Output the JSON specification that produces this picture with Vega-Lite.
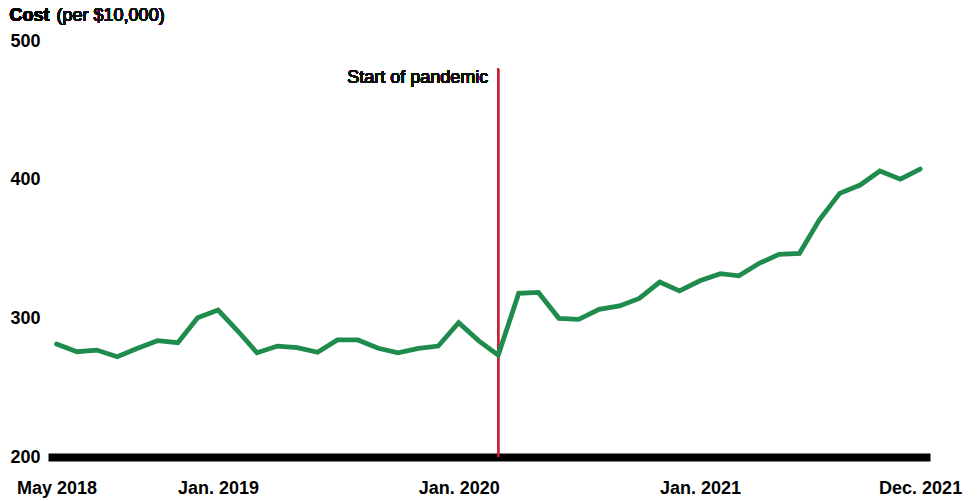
{
  "$schema": "https://vega.github.io/schema/vega-lite/v6.json",
  "width": 882,
  "height": 416,
  "padding": {"left": 48, "top": 41, "right": 50, "bottom": 44},
  "autosize": {"type": "none"},
  "background": "white",
  "config": {
    "view": {"stroke": null},
    "font": "Liberation Sans",
    "text": {"font": "Liberation Sans"}
  },
  "datasets": {
    "cost": [
      {"month": "2018-05", "cost": 281.5},
      {"month": "2018-06", "cost": 275.9},
      {"month": "2018-07", "cost": 277.1},
      {"month": "2018-08", "cost": 272.3},
      {"month": "2018-09", "cost": 278.4},
      {"month": "2018-10", "cost": 283.9},
      {"month": "2018-11", "cost": 282.4},
      {"month": "2018-12", "cost": 300.4},
      {"month": "2019-01", "cost": 306.0},
      {"month": "2019-02", "cost": 290.3},
      {"month": "2019-03", "cost": 275.2},
      {"month": "2019-04", "cost": 280.0},
      {"month": "2019-05", "cost": 278.8},
      {"month": "2019-06", "cost": 275.5},
      {"month": "2019-07", "cost": 284.4},
      {"month": "2019-08", "cost": 284.4},
      {"month": "2019-09", "cost": 278.4},
      {"month": "2019-10", "cost": 275.2},
      {"month": "2019-11", "cost": 278.4},
      {"month": "2019-12", "cost": 280.0},
      {"month": "2020-01", "cost": 296.8},
      {"month": "2020-02", "cost": 283.6},
      {"month": "2020-03", "cost": 273.5},
      {"month": "2020-04", "cost": 318.0},
      {"month": "2020-05", "cost": 318.7},
      {"month": "2020-06", "cost": 300.0},
      {"month": "2020-07", "cost": 299.3},
      {"month": "2020-08", "cost": 306.5},
      {"month": "2020-09", "cost": 308.9},
      {"month": "2020-10", "cost": 314.4},
      {"month": "2020-11", "cost": 326.2},
      {"month": "2020-12", "cost": 319.8},
      {"month": "2021-01", "cost": 327.1},
      {"month": "2021-02", "cost": 332.2},
      {"month": "2021-03", "cost": 330.7},
      {"month": "2021-04", "cost": 339.7},
      {"month": "2021-05", "cost": 346.1},
      {"month": "2021-06", "cost": 346.9},
      {"month": "2021-07", "cost": 370.9},
      {"month": "2021-08", "cost": 390.1},
      {"month": "2021-09", "cost": 396.1},
      {"month": "2021-10", "cost": 406.2},
      {"month": "2021-11", "cost": 400.4},
      {"month": "2021-12", "cost": 407.6}
    ]
  },
  "data": {"name": "cost", "format": {"parse": {"month": "date:'%Y-%m'"}}},
  "layer": [
    {
      "mark": {"type": "rule", "color": "#c8203f", "strokeWidth": 1.6},
      "encoding": {
        "x": {"datum": {"year": 2020, "month": 3, "date": 1}, "type": "temporal"},
        "y": {"datum": 200, "type": "quantitative"},
        "y2": {"datum": 480}
      }
    },
    {
      "mark": {"type": "text", "text": "Start of pandemic", "align": "right", "baseline": "alphabetic", "dx": -10, "fontSize": 18, "fontWeight": "normal", "color": "#111111", "opacity": 0.99},
      "encoding": {
        "x": {"datum": {"year": 2020, "month": 3, "date": 1}, "type": "temporal"},
        "y": {"datum": 469.4, "type": "quantitative"}
      }
    },
    {
      "mark": {"type": "text", "text": "Cost", "align": "right", "baseline": "alphabetic", "dx": -7, "fontSize": 18, "fontWeight": "bold", "color": "#000000", "clip": false},
      "encoding": {
        "x": {"datum": {"year": 2018, "month": 5, "date": 1}, "type": "temporal"},
        "y": {"datum": 514.6, "type": "quantitative"}
      }
    },
    {
      "mark": {"type": "text", "text": "(per $10,000)", "align": "left", "baseline": "alphabetic", "fontSize": 18, "fontWeight": "normal", "color": "#111111", "opacity": 0.99, "clip": false},
      "encoding": {
        "x": {"datum": {"year": 2018, "month": 5, "date": 1}, "type": "temporal"},
        "y": {"datum": 514.6, "type": "quantitative"}
      }
    },
    {
      "mark": {"type": "line", "color": "#1f8c4d", "strokeWidth": 4.8, "strokeCap": "round"},
      "encoding": {
        "x": {
          "field": "month",
          "type": "temporal",
          "scale": {
            "domain": [
              {"year": 2018, "month": 4, "date": 18},
              {"year": 2021, "month": 12, "date": 16}
            ]
          },
          "axis": {
            "title": null,
            "values": [
              {"year": 2018, "month": 5, "date": 1},
              {"year": 2019, "month": 1, "date": 1},
              {"year": 2020, "month": 1, "date": 1},
              {"year": 2021, "month": 1, "date": 1},
              {"year": 2021, "month": 12, "date": 1}
            ],
            "labelExpr": "month(datum.value) === 4 ? 'May ' + year(datum.value) : timeFormat(datum.value, '%b. %Y')",
            "grid": false,
            "ticks": false,
            "tickSize": 0,
            "domain": true,
            "domainColor": "#000000",
            "domainWidth": 8,
            "labelFont": "Liberation Sans",
            "labelFontSize": 18,
            "labelFontWeight": "bold",
            "labelColor": "#000000",
            "labelPadding": 22,
            "labelOverlap": false
          }
        },
        "y": {
          "field": "cost",
          "type": "quantitative",
          "scale": {"domain": [200, 500], "nice": false, "zero": false},
          "axis": {
            "title": null,
            "values": [200, 300, 400, 500],
            "grid": false,
            "ticks": false,
            "tickSize": 0,
            "domain": false,
            "labelAlign": "left",
            "labelBaseline": "middle",
            "labelPadding": 38,
            "labelFont": "Liberation Sans",
            "labelFontSize": 18,
            "labelFontWeight": "bold",
            "labelColor": "#000000"
          }
        }
      }
    }
  ]
}
